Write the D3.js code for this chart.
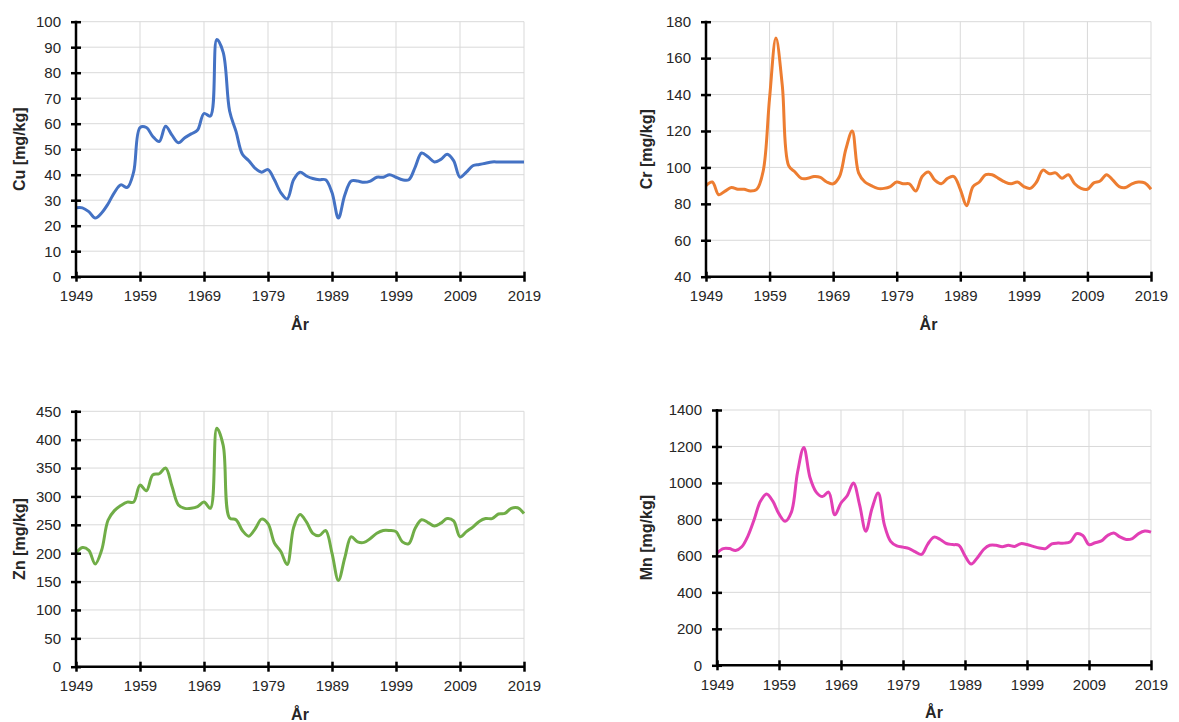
<!DOCTYPE html>
<html>
<head>
<meta charset="utf-8">
<script src="https://cdn.jsdelivr.net/npm/d3@7"></script>
<style>
	body { margin: 0; background: #fff; }
	svg { display: block; font-family: "Liberation Sans", Arial, sans-serif; }
	.grid line { stroke: #d9d9d9; stroke-width: 1; }
	.axis path, .axis line { stroke: #000; stroke-width: 2.5; }
	.axis text { fill: #262626; font-size: 15px; }
	.title { font-weight: bold; font-size: 16px; fill: #262626; }
</style>
</head>
<body>
<svg id="chart" width="1179" height="722"></svg>
<script>
'use strict';

var years = d3.range(1949, 2020);
var yearTicks = [1949, 1959, 1969, 1979, 1989, 1999, 2009, 2019];

var cuValues = [
	27, 27, 25.5, 23, 25, 28.5, 33, 36, 35, 41,
	58.5, 58.5, 55, 53, 59, 55.5, 52.5, 54.5, 56, 57.5,
	64, 63, 93, 88, 65, 57, 48, 45.5, 42.5, 41,
	42, 38, 33, 30.5, 38, 41, 39.5, 38.5, 38, 38,
	33, 23, 32, 37.5, 37.5, 37, 37.5, 39, 39, 40,
	39, 38, 38, 43, 48.5, 47, 45, 46, 48, 45.5,
	39, 41, 43.5, 44, 44.5, 45, 45, 45, 45, 45, 45
];
var crValues = [
	90, 92, 85, 87, 89, 88, 88, 87, 88, 98,
	138, 171, 145, 101, 97.5, 94, 94, 95, 94.5, 92,
	91, 95, 110, 120, 97, 92, 90, 88.5, 88.5, 89.5,
	92, 91, 91, 87, 95, 97.5, 93, 91, 94, 95,
	88, 79, 89.5, 92, 96, 96, 94, 92, 91, 92,
	89.5, 88.5, 92, 98.5, 96.5, 97, 94, 96, 91, 88.5,
	88, 91.5, 92.5, 96, 93, 89.5, 89, 91, 92, 91.5, 88
];
var znValues = [
	200, 210, 205, 181, 205, 258, 275, 284, 290, 290,
	320, 310, 338, 340, 350, 318, 285, 279, 279, 282,
	290, 279, 420, 390, 262, 259, 240, 230, 243, 260,
	252, 218, 203, 180, 245, 268, 255, 235, 231, 240,
	200, 152, 192, 229, 220, 219, 226, 235, 240, 240,
	238, 220, 217, 244, 259, 254, 248, 253, 261, 257,
	229, 238, 246, 256, 261, 261, 269, 270, 279, 280, 270
];
var mnValues = [
	615, 640, 640, 630, 650, 710, 800, 900, 940, 900,
	830, 790, 840, 1060, 1195, 1030, 950, 925, 950, 825,
	890, 930, 1000, 880, 735, 860, 945, 770, 680, 655,
	648, 640, 622, 608, 665, 703, 690, 668, 662, 658,
	600, 555, 590, 635, 658, 658, 650, 658, 652, 667,
	662, 652, 643, 640, 666, 670, 670, 678, 722, 712,
	662, 672, 682, 712, 725, 704, 690, 695, 722, 736, 730
];

var cuTicks = d3.range(0, 101, 10);
var crTicks = d3.range(40, 181, 20);
var znTicks = d3.range(0, 451, 50);
var mnTicks = d3.range(0, 1401, 200);

var panels = [
	{ label: 'Cu [mg/kg]', values: cuValues, ticks: cuTicks, color: '#4472c4',
	  left: 76, right: 524, top: 21.7, bottom: 276.7, titleX: 25 },
	{ label: 'Cr [mg/kg]', values: crValues, ticks: crTicks, color: '#ed7d31',
	  left: 706, right: 1151, top: 21.7, bottom: 276.7, titleX: 652 },
	{ label: 'Zn [mg/kg]', values: znValues, ticks: znTicks, color: '#70ad47',
	  left: 76, right: 524, top: 411.3, bottom: 666.7, titleX: 25 },
	{ label: 'Mn [mg/kg]', values: mnValues, ticks: mnTicks, color: '#e23fb5',
	  left: 717, right: 1151, top: 410, bottom: 665.3, titleX: 652 }
];

var svg = d3.select('#chart');

function drawPanel(p) {
	var x = d3.scaleLinear()
		.domain([years[0], years[years.length - 1]])
		.range([p.left, p.right]);

	var y = d3.scaleLinear()
		.domain([p.ticks[0], p.ticks[p.ticks.length - 1]])
		.range([p.bottom, p.top]);

	var g = svg.append('g');

	// gridlines
	var grid = g.append('g').attr('class', 'grid');
	grid.selectAll('.h')
		.data(p.ticks.slice(1))
		.enter().append('line')
			.attr('x1', p.left)
			.attr('x2', p.right)
			.attr('y1', function(d) { return y(d); })
			.attr('y2', function(d) { return y(d); });
	grid.selectAll('.v')
		.data(yearTicks.slice(1))
		.enter().append('line')
			.attr('x1', function(d) { return x(d); })
			.attr('x2', function(d) { return x(d); })
			.attr('y1', p.top)
			.attr('y2', p.bottom);

	// series, smoothed
	var line = d3.line()
		.x(function(d, i) { return x(years[i]); })
		.y(function(d) { return y(d); })
		.curve(d3.curveCatmullRom.alpha(0.5));

	g.append('path')
		.datum(p.values)
		.attr('fill', 'none')
		.attr('stroke', p.color)
		.attr('stroke-width', 3)
		.attr('stroke-linejoin', 'round')
		.attr('d', line);

	// axes with crossing ticks
	var xAxis = g.append('g')
		.attr('class', 'axis')
		.attr('transform', 'translate(0,' + p.bottom + ')')
		.call(d3.axisBottom(x).tickValues(yearTicks).tickFormat(d3.format('d'))
			.tickSizeInner(5).tickSizeOuter(0).tickPadding(9));
	xAxis.selectAll('.tick line').attr('y1', -5);

	var yAxis = g.append('g')
		.attr('class', 'axis')
		.attr('transform', 'translate(' + p.left + ',0)')
		.call(d3.axisLeft(y).tickValues(p.ticks).tickFormat(d3.format('d'))
			.tickSizeInner(5).tickSizeOuter(0).tickPadding(10));
	yAxis.selectAll('.tick line').attr('x1', 5);
	yAxis.select('.domain').attr('d', 'M0,' + p.bottom + 'V' + (p.top - 1));
	xAxis.select('.domain').attr('d', 'M' + (p.left - 1) + ',0H' + (p.right + 1));

	// titles
	g.append('text')
		.attr('class', 'title')
		.attr('text-anchor', 'middle')
		.attr('transform', 'translate(' + p.titleX + ',' + ((p.top + p.bottom) / 2) + ') rotate(-90)')
		.text(p.label);

	g.append('text')
		.attr('class', 'title')
		.attr('text-anchor', 'middle')
		.attr('x', (p.left + p.right) / 2)
		.attr('y', p.bottom + 53)
		.text('År');
}

panels.forEach(drawPanel);
</script>
</body>
</html>
